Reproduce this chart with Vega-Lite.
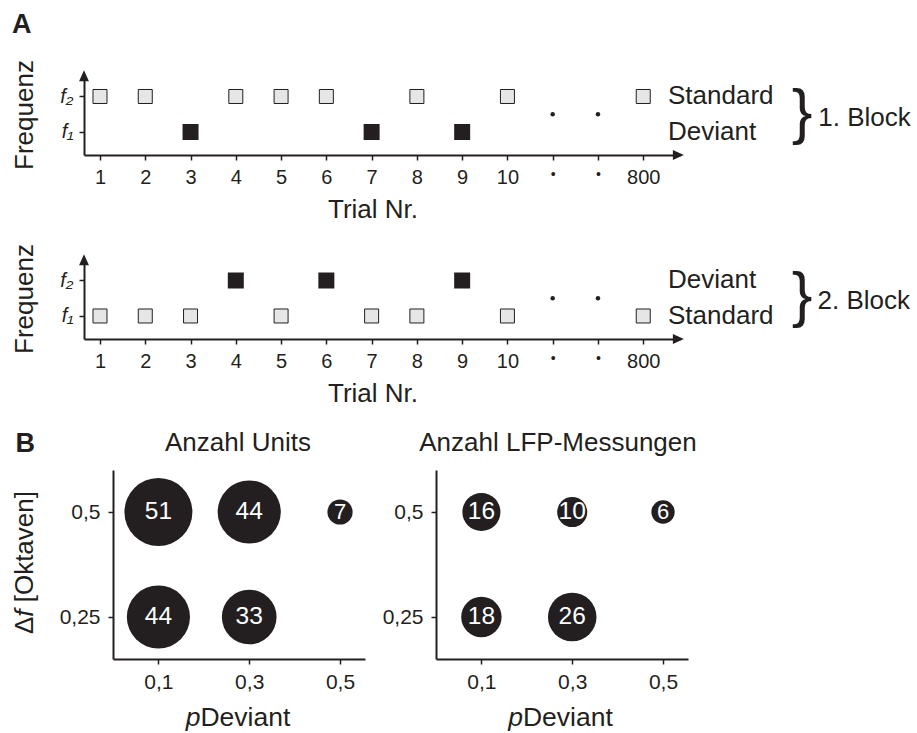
{
  "$schema": "https://vega.github.io/schema/vega-lite/v6.json",
  "padding": {"left": 11, "top": 11, "right": 4, "bottom": 4},
  "autosize": {"type": "pad"},
  "background": "white",
  "config": {
    "font": "Liberation Sans",
    "view": {"stroke": null},
    "axis": {
      "grid": false,
      "domainColor": "#231f20",
      "domainWidth": 2,
      "tickColor": "#231f20",
      "tickWidth": 1.5,
      "tickSize": 5,
      "labelColor": "#231f20",
      "titleColor": "#231f20",
      "labelFont": "Liberation Sans",
      "titleFont": "Liberation Sans",
      "labelFlush": false,
      "labelOverlap": false,
      "labelBound": false
    },
    "text": {"font": "Liberation Sans", "color": "#231f20"}
  },
  "datasets": {
    "trials": [
      {"block": 1, "trial": 1, "freq": 2, "type": "Standard"},
      {"block": 1, "trial": 2, "freq": 2, "type": "Standard"},
      {"block": 1, "trial": 3, "freq": 1, "type": "Deviant"},
      {"block": 1, "trial": 4, "freq": 2, "type": "Standard"},
      {"block": 1, "trial": 5, "freq": 2, "type": "Standard"},
      {"block": 1, "trial": 6, "freq": 2, "type": "Standard"},
      {"block": 1, "trial": 7, "freq": 1, "type": "Deviant"},
      {"block": 1, "trial": 8, "freq": 2, "type": "Standard"},
      {"block": 1, "trial": 9, "freq": 1, "type": "Deviant"},
      {"block": 1, "trial": 10, "freq": 2, "type": "Standard"},
      {"block": 1, "trial": 13, "freq": 2, "type": "Standard"},
      {"block": 2, "trial": 1, "freq": 1, "type": "Standard"},
      {"block": 2, "trial": 2, "freq": 1, "type": "Standard"},
      {"block": 2, "trial": 3, "freq": 1, "type": "Standard"},
      {"block": 2, "trial": 4, "freq": 2, "type": "Deviant"},
      {"block": 2, "trial": 5, "freq": 1, "type": "Standard"},
      {"block": 2, "trial": 6, "freq": 2, "type": "Deviant"},
      {"block": 2, "trial": 7, "freq": 1, "type": "Standard"},
      {"block": 2, "trial": 8, "freq": 1, "type": "Standard"},
      {"block": 2, "trial": 9, "freq": 2, "type": "Deviant"},
      {"block": 2, "trial": 10, "freq": 1, "type": "Standard"},
      {"block": 2, "trial": 13, "freq": 1, "type": "Standard"}
    ],
    "dots": [
      {"block": 1, "trial": 11, "freq": 1.5},
      {"block": 1, "trial": 12, "freq": 1.5},
      {"block": 2, "trial": 11, "freq": 1.5},
      {"block": 2, "trial": 12, "freq": 1.5}
    ],
    "side": [
      {"block": 1, "label": "Standard", "freq": 2},
      {"block": 1, "label": "Deviant", "freq": 1},
      {"block": 2, "label": "Deviant", "freq": 2},
      {"block": 2, "label": "Standard", "freq": 1}
    ],
    "units": [
      {"p": 0.1, "df": 0.5, "n": 51},
      {"p": 0.3, "df": 0.5, "n": 44},
      {"p": 0.5, "df": 0.5, "n": 7},
      {"p": 0.1, "df": 0.25, "n": 44},
      {"p": 0.3, "df": 0.25, "n": 33}
    ],
    "lfp": [
      {"p": 0.1, "df": 0.5, "n": 16},
      {"p": 0.3, "df": 0.5, "n": 10},
      {"p": 0.5, "df": 0.5, "n": 6},
      {"p": 0.1, "df": 0.25, "n": 18},
      {"p": 0.3, "df": 0.25, "n": 26}
    ]
  },
  "vconcat": [
    {
      "width": 596,
      "height": 81,
      "layer": [
        {
          "data": {"name": "trials"},
          "transform": [{"filter": "datum.block == 1 && datum.type == 'Standard'"}],
          "mark": {"type": "square", "size": 196, "fill": "#e6e6e7", "stroke": "#231f20", "strokeWidth": 1, "opacity": 1},
          "encoding": {
            "x": {
              "field": "trial", "type": "quantitative",
              "scale": {"domain": [0.6466, 13.812], "nice": false, "zero": false},
              "axis": {
                "values": [1, 2, 3, 4, 5, 6, 7, 8, 9, 10, 11, 12, 13],
                "labelExpr": "datum.value == 13 ? '800' : datum.value > 10 ? '•' : format(datum.value, 'd')",
                "labelFontSize": {"condition": {"test": "datum.value > 10 && datum.value < 13", "value": 14}, "value": 20},
                "labelPadding": 7,
                "title": "Trial Nr.",
                "titleX": 288.5, "titleY": 62.6,
                "titleAlign": "center", "titleBaseline": "alphabetic",
                "titleFontSize": 26, "titleFontWeight": "normal"
              }
            },
            "y": {
              "field": "freq", "type": "quantitative",
              "scale": {"domain": [0.3521, 2.6338], "nice": false, "zero": false},
              "axis": {
                "values": [1, 2],
                "labelExpr": "datum.value == 1 ? 'f₁' : 'f₂'",
                "labelFontStyle": "italic",
                "labelFontSize": 20,
                "labelPadding": 6,
                "title": "Frequenz",
                "titleX": -52, "titleY": 40.5, "titleAngle": 270,
                "titleAlign": "center", "titleBaseline": "alphabetic",
                "titleFontSize": 26, "titleFontWeight": "normal"
              }
            }
          }
        },
        {
          "data": {"name": "trials"},
          "transform": [{"filter": "datum.block == 1 && datum.type == 'Deviant'"}],
          "mark": {"type": "square", "size": 256, "fill": "#231f20", "strokeWidth": 0, "opacity": 1},
          "encoding": {"x": {"field": "trial", "type": "quantitative"}, "y": {"field": "freq", "type": "quantitative"}}
        },
        {
          "data": {"name": "dots"},
          "transform": [{"filter": "datum.block == 1"}],
          "mark": {"type": "circle", "size": 20, "color": "#231f20", "opacity": 1},
          "encoding": {"x": {"field": "trial", "type": "quantitative"}, "y": {"field": "freq", "type": "quantitative"}}
        },
        {
          "data": {"values": [{}]},
          "mark": {"type": "point", "shape": "M0,-0.7L-0.9,1.3L0.9,1.3Z", "size": 121, "filled": true, "color": "#231f20", "opacity": 1, "strokeWidth": 0},
          "encoding": {"x": {"datum": 0.6466, "type": "quantitative"}, "y": {"datum": 2.6338, "type": "quantitative"}}
        },
        {
          "data": {"values": [{}]},
          "mark": {"type": "point", "shape": "M0.7,0L-1.3,-0.9L-1.3,0.9Z", "size": 121, "filled": true, "color": "#231f20", "opacity": 1, "strokeWidth": 0},
          "encoding": {"x": {"datum": 13.812, "type": "quantitative"}, "y": {"datum": 0.3521, "type": "quantitative"}}
        },
        {
          "data": {"name": "side"},
          "transform": [{"filter": "datum.block == 1"}],
          "mark": {"type": "text", "align": "left", "baseline": "middle", "fontSize": 26},
          "encoding": {"x": {"datum": 13.547, "type": "quantitative"}, "y": {"field": "freq", "type": "quantitative"}, "text": {"field": "label"}}
        },
        {
          "data": {"values": [{}]},
          "mark": {"type": "text", "text": "}", "align": "center", "baseline": "middle", "fontSize": 62},
          "encoding": {"x": {"datum": 16.507, "type": "quantitative"}, "y": {"datum": 1.53, "type": "quantitative"}}
        },
        {
          "data": {"values": [{}]},
          "mark": {"type": "text", "text": "1. Block", "align": "left", "baseline": "middle", "fontSize": 26},
          "encoding": {"x": {"datum": 16.867, "type": "quantitative"}, "y": {"datum": 1.4, "type": "quantitative"}}
        },
        {
          "data": {"values": [{}]},
          "mark": {"type": "text", "text": "A", "align": "left", "baseline": "alphabetic", "fontSize": 27, "fontWeight": "bold"},
          "encoding": {"x": {"datum": -0.944, "type": "quantitative"}, "y": {"datum": 3.78, "type": "quantitative"}}
        }
      ]
    },
    {
      "width": 1,
      "height": 103,
      "data": {"values": [{}]},
      "mark": {"type": "point", "opacity": 0},
      "encoding": {}
    },
    {
      "width": 596,
      "height": 81,
      "layer": [
        {
          "data": {"name": "trials"},
          "transform": [{"filter": "datum.block == 2 && datum.type == 'Standard'"}],
          "mark": {"type": "square", "size": 196, "fill": "#e6e6e7", "stroke": "#231f20", "strokeWidth": 1, "opacity": 1},
          "encoding": {
            "x": {
              "field": "trial", "type": "quantitative",
              "scale": {"domain": [0.6466, 13.812], "nice": false, "zero": false},
              "axis": {
                "values": [1, 2, 3, 4, 5, 6, 7, 8, 9, 10, 11, 12, 13],
                "labelExpr": "datum.value == 13 ? '800' : datum.value > 10 ? '•' : format(datum.value, 'd')",
                "labelFontSize": {"condition": {"test": "datum.value > 10 && datum.value < 13", "value": 14}, "value": 20},
                "labelPadding": 7,
                "title": "Trial Nr.",
                "titleX": 288.5, "titleY": 62.6,
                "titleAlign": "center", "titleBaseline": "alphabetic",
                "titleFontSize": 26, "titleFontWeight": "normal"
              }
            },
            "y": {
              "field": "freq", "type": "quantitative",
              "scale": {"domain": [0.3521, 2.6338], "nice": false, "zero": false},
              "axis": {
                "values": [1, 2],
                "labelExpr": "datum.value == 1 ? 'f₁' : 'f₂'",
                "labelFontStyle": "italic",
                "labelFontSize": 20,
                "labelPadding": 6,
                "title": "Frequenz",
                "titleX": -52, "titleY": 40.5, "titleAngle": 270,
                "titleAlign": "center", "titleBaseline": "alphabetic",
                "titleFontSize": 26, "titleFontWeight": "normal"
              }
            }
          }
        },
        {
          "data": {"name": "trials"},
          "transform": [{"filter": "datum.block == 2 && datum.type == 'Deviant'"}],
          "mark": {"type": "square", "size": 256, "fill": "#231f20", "strokeWidth": 0, "opacity": 1},
          "encoding": {"x": {"field": "trial", "type": "quantitative"}, "y": {"field": "freq", "type": "quantitative"}}
        },
        {
          "data": {"name": "dots"},
          "transform": [{"filter": "datum.block == 2"}],
          "mark": {"type": "circle", "size": 20, "color": "#231f20", "opacity": 1},
          "encoding": {"x": {"field": "trial", "type": "quantitative"}, "y": {"field": "freq", "type": "quantitative"}}
        },
        {
          "data": {"values": [{}]},
          "mark": {"type": "point", "shape": "M0,-0.7L-0.9,1.3L0.9,1.3Z", "size": 121, "filled": true, "color": "#231f20", "opacity": 1, "strokeWidth": 0},
          "encoding": {"x": {"datum": 0.6466, "type": "quantitative"}, "y": {"datum": 2.6338, "type": "quantitative"}}
        },
        {
          "data": {"values": [{}]},
          "mark": {"type": "point", "shape": "M0.7,0L-1.3,-0.9L-1.3,0.9Z", "size": 121, "filled": true, "color": "#231f20", "opacity": 1, "strokeWidth": 0},
          "encoding": {"x": {"datum": 13.812, "type": "quantitative"}, "y": {"datum": 0.3521, "type": "quantitative"}}
        },
        {
          "data": {"name": "side"},
          "transform": [{"filter": "datum.block == 2"}],
          "mark": {"type": "text", "align": "left", "baseline": "middle", "fontSize": 26},
          "encoding": {"x": {"datum": 13.547, "type": "quantitative"}, "y": {"field": "freq", "type": "quantitative"}, "text": {"field": "label"}}
        },
        {
          "data": {"values": [{}]},
          "mark": {"type": "text", "text": "}", "align": "center", "baseline": "middle", "fontSize": 62},
          "encoding": {"x": {"datum": 16.507, "type": "quantitative"}, "y": {"datum": 1.57, "type": "quantitative"}}
        },
        {
          "data": {"values": [{}]},
          "mark": {"type": "text", "text": "2. Block", "align": "left", "baseline": "middle", "fontSize": 26},
          "encoding": {"x": {"datum": 16.85, "type": "quantitative"}, "y": {"datum": 1.41, "type": "quantitative"}}
        }
      ]
    },
    {
      "width": 1,
      "height": 131,
      "data": {"values": [{}]},
      "mark": {"type": "point", "opacity": 0},
      "encoding": {}
    },
    {
      "hconcat": [
        {
          "width": 28.5,
          "height": 189,
          "data": {"values": [{}]},
          "mark": {"type": "point", "opacity": 0},
          "encoding": {}
        },
        {
          "width": 252,
          "height": 189,
          "layer": [
            {
              "data": {"name": "units"},
              "mark": {"type": "circle", "color": "#231f20", "opacity": 1},
              "encoding": {
                "x": {
                  "field": "p", "type": "quantitative",
                  "scale": {"domain": [0, 0.555], "nice": false, "zero": false},
                  "axis": {"values": [0.1, 0.3, 0.5], "labelExpr": "replace(format(datum.value, '.1f'), '.', ',')", "title": null, "labelFontSize": 21, "labelPadding": 7.7}
                },
                "y": {
                  "field": "df", "type": "quantitative",
                  "scale": {"domain": [0.15, 0.6], "nice": false, "zero": false},
                  "axis": {"values": [0.25, 0.5], "labelExpr": "replace(format(datum.value, '~g'), '.', ',')", "title": null, "labelFontSize": 21, "labelPadding": 8}
                },
                "size": {"field": "n", "type": "quantitative", "scale": {"domain": [0, 51], "range": [0, 4624]}, "legend": null}
              }
            },
            {
              "data": {"name": "units"},
              "mark": {"type": "text", "color": "white", "align": "center", "baseline": "middle"},
              "encoding": {
                "x": {"field": "p", "type": "quantitative"},
                "y": {"field": "df", "type": "quantitative"},
                "text": {"field": "n", "type": "quantitative"},
                "size": {"condition": {"test": "datum.n < 10", "value": 22}, "value": 24.5}
              }
            },
            {
              "data": {"values": [{}]},
              "mark": {"type": "text", "text": "Anzahl Units", "align": "center", "baseline": "alphabetic", "fontSize": 26},
              "encoding": {"x": {"datum": 0.2753, "type": "quantitative"}, "y": {"datum": 0.6464, "type": "quantitative"}}
            },
            {
              "data": {"values": [{}]},
              "mark": {"type": "text", "text": "p", "align": "right", "baseline": "alphabetic", "fontSize": 26.5, "fontStyle": "italic"},
              "encoding": {"x": {"datum": 0.1925, "type": "quantitative"}, "y": {"datum": -0.0095, "type": "quantitative"}}
            },
            {
              "data": {"values": [{}]},
              "mark": {"type": "text", "text": "Deviant", "align": "left", "baseline": "alphabetic", "fontSize": 26.5},
              "encoding": {"x": {"datum": 0.1925, "type": "quantitative"}, "y": {"datum": -0.0095, "type": "quantitative"}}
            },
            {
              "data": {"values": [{}]},
              "mark": {"type": "text", "text": "Δ", "align": "left", "baseline": "alphabetic", "fontSize": 26, "angle": 270},
              "encoding": {"x": {"datum": -0.1751, "type": "quantitative"}, "y": {"datum": 0.2095, "type": "quantitative"}}
            },
            {
              "data": {"values": [{}]},
              "mark": {"type": "text", "text": "f", "align": "left", "baseline": "alphabetic", "fontSize": 26, "angle": 270, "fontStyle": "italic"},
              "encoding": {"x": {"datum": -0.1751, "type": "quantitative"}, "y": {"datum": 0.2507, "type": "quantitative"}}
            },
            {
              "data": {"values": [{}]},
              "mark": {"type": "text", "text": "[Oktaven]", "align": "left", "baseline": "alphabetic", "fontSize": 26, "angle": 270},
              "encoding": {"x": {"datum": -0.1751, "type": "quantitative"}, "y": {"datum": 0.285, "type": "quantitative"}}
            },
            {
              "data": {"values": [{}]},
              "mark": {"type": "text", "text": "B", "align": "left", "baseline": "alphabetic", "fontSize": 27, "fontWeight": "bold"},
              "encoding": {"x": {"datum": -0.2148, "type": "quantitative"}, "y": {"datum": 0.6436, "type": "quantitative"}}
            }
          ]
        },
        {
          "width": 71,
          "height": 189,
          "data": {"values": [{}]},
          "mark": {"type": "point", "opacity": 0},
          "encoding": {}
        },
        {
          "width": 252,
          "height": 189,
          "layer": [
            {
              "data": {"name": "lfp"},
              "mark": {"type": "circle", "color": "#231f20", "opacity": 1},
              "encoding": {
                "x": {
                  "field": "p", "type": "quantitative",
                  "scale": {"domain": [0, 0.555], "nice": false, "zero": false},
                  "axis": {"values": [0.1, 0.3, 0.5], "labelExpr": "replace(format(datum.value, '.1f'), '.', ',')", "title": null, "labelFontSize": 21, "labelPadding": 7.7}
                },
                "y": {
                  "field": "df", "type": "quantitative",
                  "scale": {"domain": [0.15, 0.6], "nice": false, "zero": false},
                  "axis": {"values": [0.25, 0.5], "labelExpr": "replace(format(datum.value, '~g'), '.', ',')", "title": null, "labelFontSize": 21, "labelPadding": 8}
                },
                "size": {"field": "n", "type": "quantitative", "scale": {"domain": [0, 51], "range": [0, 4624]}, "legend": null}
              }
            },
            {
              "data": {"name": "lfp"},
              "mark": {"type": "text", "color": "white", "align": "center", "baseline": "middle"},
              "encoding": {
                "x": {"field": "p", "type": "quantitative"},
                "y": {"field": "df", "type": "quantitative"},
                "text": {"field": "n", "type": "quantitative"},
                "size": {"condition": {"test": "datum.n < 10", "value": 22}, "value": 24.5}
              }
            },
            {
              "data": {"values": [{}]},
              "mark": {"type": "text", "text": "Anzahl LFP-Messungen", "align": "center", "baseline": "alphabetic", "fontSize": 26},
              "encoding": {"x": {"datum": 0.2687, "type": "quantitative"}, "y": {"datum": 0.6464, "type": "quantitative"}}
            },
            {
              "data": {"values": [{}]},
              "mark": {"type": "text", "text": "p", "align": "right", "baseline": "alphabetic", "fontSize": 26.5, "fontStyle": "italic"},
              "encoding": {"x": {"datum": 0.1914, "type": "quantitative"}, "y": {"datum": -0.0095, "type": "quantitative"}}
            },
            {
              "data": {"values": [{}]},
              "mark": {"type": "text", "text": "Deviant", "align": "left", "baseline": "alphabetic", "fontSize": 26.5},
              "encoding": {"x": {"datum": 0.1914, "type": "quantitative"}, "y": {"datum": -0.0095, "type": "quantitative"}}
            }
          ]
        }
      ],
      "spacing": 0,
      "bounds": "flush"
    }
  ],
  "spacing": 0,
  "bounds": "flush"
}
